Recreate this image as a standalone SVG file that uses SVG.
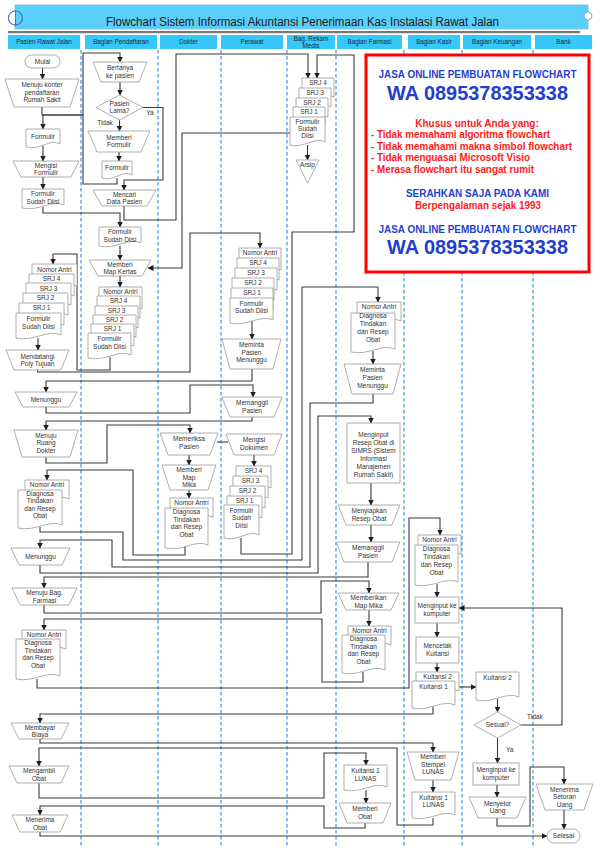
<svg xmlns="http://www.w3.org/2000/svg" width="600" height="851" viewBox="0 0 600 851">
<defs>
<marker id="ah" markerWidth="6" markerHeight="6" refX="5.5" refY="3" orient="auto" markerUnits="userSpaceOnUse"><path d="M0,0 L6,3 L0,6 z" fill="#1e1e1e"/></marker>
<style>
.n{fill:#fff;stroke:#9a9a9a;stroke-width:0.8}
.t{font-family:"Liberation Sans",Arial,sans-serif;font-size:6.5px;fill:#333;text-anchor:middle}
.h{font-family:"Liberation Sans",Arial,sans-serif;font-size:6.3px;fill:#1d2a3a;text-anchor:middle}
.hc{fill:#35c8f8}
.c{fill:none;stroke:#3a3a3a;stroke-width:1.1;marker-end:url(#ah)}
.cp{fill:none;stroke:#3a3a3a;stroke-width:1.1}
.lane{stroke:#2f86f0;stroke-width:1.1;stroke-dasharray:3.5 2.5}
.ab{font-family:"Liberation Sans",Arial,sans-serif;font-weight:bold;fill:#1f3fcf;text-anchor:middle}
.ar{font-family:"Liberation Sans",Arial,sans-serif;font-weight:bold;fill:#ff1a1a;font-size:10px}
</style>
</defs>
<rect width="600" height="851" fill="#fff"/>

<g id="title">
<rect x="15" y="5" width="573" height="24" fill="#5acffa" stroke="#7fb8e0" stroke-width="0.8"/>
<circle cx="588" cy="16" r="4" fill="#fff" stroke="#8aa6d8" stroke-width="1"/>
<circle cx="15.5" cy="18" r="7" fill="#5acffa" stroke="#4a6fd0" stroke-width="1.2"/>
<path d="M15.5,11 A7,7 0 0 0 15.5,25 Z" fill="#fff" stroke="#4a6fd0" stroke-width="1"/>
<text x="302.5" y="26" font-family="Liberation Sans,Arial,sans-serif" font-size="12.5" fill="#1a1a1a" text-anchor="middle" textLength="393" lengthAdjust="spacingAndGlyphs">Flowchart Sistem Informasi Akuntansi Penerimaan Kas Instalasi Rawat Jalan</text>
<rect x="8" y="31" width="572" height="2.2" fill="#777"/>
</g>

<g id="lanes">
<rect class="hc" x="8" y="35" width="72" height="14"/><text class="h" x="44" y="44.3">Pasien Rawat Jalan</text>
<rect class="hc" x="85" y="35" width="72" height="14"/><text class="h" x="121" y="44.3">Bagian Pendaftaran</text>
<rect class="hc" x="160" y="35" width="57" height="14"/><text class="h" x="188.5" y="44.3">Dokter</text>
<rect class="hc" x="221" y="35" width="62" height="14"/><text class="h" x="252" y="44.3">Perawat</text>
<rect class="hc" x="287" y="35" width="48" height="14"/><text class="h" x="311" y="40.5">Bag. Rekam</text><text class="h" x="311" y="47.5">Medis</text>
<rect class="hc" x="337" y="35" width="65" height="14"/><text class="h" x="369.5" y="44.3">Bagian Farmasi</text>
<rect class="hc" x="408" y="35" width="52" height="14"/><text class="h" x="434" y="44.3">Bagian Kasir</text>
<rect class="hc" x="463" y="35" width="68" height="14"/><text class="h" x="497" y="44.3">Bagian Keuangan</text>
<rect class="hc" x="535" y="35" width="57" height="14"/><text class="h" x="563.5" y="44.3">Bank</text>
<line class="lane" x1="81" y1="50" x2="81" y2="848"/>
<line class="lane" x1="158" y1="50" x2="158" y2="848"/>
<line class="lane" x1="221" y1="50" x2="221" y2="848"/>
<line class="lane" x1="287" y1="50" x2="287" y2="848"/>
<line class="lane" x1="336" y1="50" x2="336" y2="848"/>
<line class="lane" x1="404" y1="50" x2="404" y2="848"/>
<line class="lane" x1="462" y1="50" x2="462" y2="848"/>
<line class="lane" x1="533" y1="50" x2="533" y2="848"/>
</g>

<g id="connectors">
<path class="c" d="M42.5,68V79"/>
<path class="c" d="M42,107V115H83V53H120V62"/>
<path class="c" d="M120,82V95"/>
<path class="c" d="M119.5,120V131"/>
<path class="c" d="M119,152V161"/>
<path class="c" d="M117,178V184H83V115H43V129"/>
<path class="c" d="M43,146V161"/>
<path class="c" d="M43,177V189"/>
<path class="c" d="M43,207V213H120V227"/>
<path class="c" d="M143,107.5H163V180H124V190"/>
<path class="c" d="M124,206V220H176V54H308V78"/>
<path class="c" d="M290,133H182V268H148"/>
<path class="c" d="M120,246V260"/>
<path class="c" d="M120,276V287"/>
<path class="c" d="M110,357V370H77V254H53V264"/>
<path class="c" d="M38,338V350"/>
<path class="c" d="M37.5,370V372H190V233H260V248"/>
<path class="c" d="M307.5,145V160"/>
<path class="c" d="M252,321V339"/>
<path class="c" d="M252,369V381H46V392"/>
<path class="c" d="M46,407V413H190V385H253V397"/>
<path class="c" d="M252,417V421H46V430"/>
<path class="c" d="M46,457V463H107V425H190V433"/>
<path class="c" d="M189,455V465"/>
<path class="c" d="M189,490V498"/>
<path class="cp" d="M217,442H228"/>
<path class="c" d="M254,455V466"/>
<path class="c" d="M241,538V554H292V232H354V55H317V78"/>
<path class="c" d="M185,547V555H133V470H47V480"/>
<path class="c" d="M40,527V532H123V560H302V287H378V302"/>
<path class="c" d="M373,351V364"/>
<path class="c" d="M373,394V403H310V567H112V540H40V548"/>
<path class="c" d="M40,565V573H318V416H371V423"/>
<path class="c" d="M371,483V505"/>
<path class="c" d="M371,525V542"/>
<path class="c" d="M368,562V577H44V588"/>
<path class="c" d="M44,605V613H321V581H369V593"/>
<path class="c" d="M369,610V626"/>
<path class="c" d="M363,672V682H322V619H44V630"/>
<path class="c" d="M37,679V688H409V518H440V535"/>
<path class="c" d="M437,584V597"/>
<path class="c" d="M437,623V637"/>
<path class="c" d="M437,663V672"/>
<path class="c" d="M459,687H476"/>
<path class="c" d="M433,707V714H40V723"/>
<path class="c" d="M40,739V743H433V752"/>
<path class="c" d="M433,780V792"/>
<path class="c" d="M433,818V825H397V748H39V766"/>
<path class="c" d="M39,783V798H324V753H366V765"/>
<path class="c" d="M366,790V803"/>
<path class="c" d="M365,823V828H324V806H40V815"/>
<path class="c" d="M40,832V836H547"/>
<path class="c" d="M497.5,699V712"/>
<path class="c" d="M521,725H562V608H459"/>
<path class="c" d="M497.5,738V763"/>
<path class="c" d="M497,785V797"/>
<path class="c" d="M497,818V826H530V767H564V784"/>
<path class="c" d="M564,810V829"/>
</g>

<g id="adbox">
<rect x="366" y="55" width="223" height="217" fill="#fff" stroke="#ff0000" stroke-width="3"/>
<text class="ab" x="477.5" y="78" font-size="10" textLength="198" lengthAdjust="spacingAndGlyphs">JASA ONLINE PEMBUATAN FLOWCHART</text>
<text class="ab" x="477.5" y="100" font-size="20" textLength="181" lengthAdjust="spacingAndGlyphs">WA 0895378353338</text>
<text class="ar" x="477" y="127" text-anchor="middle">Khusus untuk Anda yang:</text>
<text class="ar" x="371" y="138" textLength="179" lengthAdjust="spacingAndGlyphs">- Tidak memahami algoritma flowchart</text>
<text class="ar" x="371" y="150" textLength="201" lengthAdjust="spacingAndGlyphs">- Tidak memahami makna simbol flowchart</text>
<text class="ar" x="371" y="161" textLength="159" lengthAdjust="spacingAndGlyphs">- Tidak menguasai Microsoft Visio</text>
<text class="ar" x="371" y="173" textLength="163" lengthAdjust="spacingAndGlyphs">- Merasa flowchart itu sangat rumit</text>
<text class="ab" x="477.5" y="197" font-size="10" textLength="143" lengthAdjust="spacingAndGlyphs">SERAHKAN SAJA PADA KAMI</text>
<text class="ar" x="478" y="209" text-anchor="middle" textLength="126" lengthAdjust="spacingAndGlyphs">Berpengalaman sejak 1993</text>
<text class="ab" x="477.5" y="233" font-size="10" textLength="198" lengthAdjust="spacingAndGlyphs">JASA ONLINE PEMBUATAN FLOWCHART</text>
<text class="ab" x="477.5" y="254" font-size="20" textLength="181" lengthAdjust="spacingAndGlyphs">WA 0895378353338</text>
</g>

<!-- Pasien Rawat Jalan -->
<g id="n_mulai"><rect class="n" x="25" y="55" width="35" height="13" rx="6.5"/><text class="t" x="42.5" y="63.7">Mulai</text></g>
<g id="n_menuju_konter"><path class="n" d="M5,79H79L70,107H14Z"/><text class="t" x="42" y="87">Menuju konter</text><text class="t" x="42" y="94.5">pendaftaran</text><text class="t" x="42" y="102">Rumah  Sakit</text></g>
<g id="n_formulir_p"><path class="n" d="M26,129h34v15c-10.2,-6 -20.4,7 -34,3z"/><text class="t" x="43" y="139">Formulir</text></g>
<g id="n_mengisi"><path class="n" d="M13,161H79L71,177H21Z"/><text class="t" x="46" y="167.5">Mengisi</text><text class="t" x="46" y="175">Formulir</text></g>
<g id="n_fsd_p"><path class="n" d="M22,189h42v16c-12.6,-6 -25.2,7 -42,3z"/><text class="t" x="43" y="196">Formulir</text><text class="t" x="43" y="203.5">Sudah Diisi</text></g>
<g id="n_stack_p">
<path class="n" d="M32,264h45v22c-13.5,-6 -27,7 -45,3z"/><text class="t" x="54.5" y="271.5">Nomor Antri</text>
<path class="n" d="M29,274h45v22c-13.5,-6 -27,7 -45,3z"/><text class="t" x="51.5" y="281">SRJ 4</text>
<path class="n" d="M26,283h45v22c-13.5,-6 -27,7 -45,3z"/><text class="t" x="48.5" y="290.5">SRJ 3</text>
<path class="n" d="M23,293h45v22c-13.5,-6 -27,7 -45,3z"/><text class="t" x="45.5" y="300">SRJ 2</text>
<path class="n" d="M19,303h45v22c-13.5,-6 -27,7 -45,3z"/><text class="t" x="41.5" y="310">SRJ 1</text>
<path class="n" d="M16,313h45v22c-13.5,-6 -27,7 -45,3z"/><text class="t" x="38.5" y="321">Formulir</text><text class="t" x="38.5" y="328.5">Sudah Diisi</text>
</g>
<g id="n_mendatangi"><path class="n" d="M6,350H69L61,370H14Z"/><text class="t" x="37.5" y="358.5">Mendatangi</text><text class="t" x="37.5" y="366">Poly Tujuan</text></g>
<g id="n_menunggu1"><path class="n" d="M15,392H77L69,407H23Z"/><text class="t" x="46" y="401.5">Menunggu</text></g>
<g id="n_menuju_dokter"><path class="n" d="M14,430H78L70,457H22Z"/><text class="t" x="46" y="437.5">Menuju</text><text class="t" x="46" y="445">Ruang</text><text class="t" x="46" y="452.5">Dokter</text></g>
<g id="n_doc_p2">
<path class="n" d="M25,480h44v19c-13.2,-6 -26.4,7 -44,3z"/><text class="t" x="47" y="486.5">Nomor Antri</text>
<path class="n" d="M18,490h44v35c-13.2,-6 -26.4,7 -44,3z"/><text class="t" x="40" y="495.5">Diagnosa</text><text class="t" x="40" y="503">Tindakan</text><text class="t" x="40" y="510.5">dan Resep</text><text class="t" x="40" y="518">Obat</text>
</g>
<g id="n_menunggu2"><path class="n" d="M11,548H70L62,565H19Z"/><text class="t" x="40.5" y="558.5">Menunggu</text></g>
<g id="n_menuju_farmasi"><path class="n" d="M12,588H77L69,605H20Z"/><text class="t" x="44.5" y="595">Menuju Bag.</text><text class="t" x="44.5" y="602.5">Farmasi</text></g>
<g id="n_doc_p3">
<path class="n" d="M22,630h44v19c-13.2,-6 -26.4,7 -44,3z"/><text class="t" x="44" y="636.5">Nomor Antri</text>
<path class="n" d="M16,639h44v37c-13.2,-6 -26.4,7 -44,3z"/><text class="t" x="38" y="645">Diagnosa</text><text class="t" x="38" y="652.5">Tindakan</text><text class="t" x="38" y="660">dan Resep</text><text class="t" x="38" y="667.5">Obat</text>
</g>
<g id="n_membayar"><path class="n" d="M11,723H69L61,739H19Z"/><text class="t" x="40" y="730">Membayar</text><text class="t" x="40" y="737">Biaya</text></g>
<g id="n_mengambil"><path class="n" d="M9,766H69L61,783H17Z"/><text class="t" x="39" y="773">Mengambil</text><text class="t" x="39" y="780.5">Obat</text></g>
<g id="n_menerima_obat"><path class="n" d="M12,815H68L60,832H20Z"/><text class="t" x="40" y="822">Menerima</text><text class="t" x="40" y="829.5">Obat</text></g>

<!-- Bagian Pendaftaran -->
<g id="n_bertanya"><path class="n" d="M93,62H147L139,82H101Z"/><text class="t" x="120" y="70">Bertanya</text><text class="t" x="120" y="77.5">ke pasien</text></g>
<g id="n_pasien_lama"><path class="n" d="M96,107.5L119.5,95L143,107.5L119.5,120Z"/><text class="t" x="119.5" y="105.5">Pasien</text><text class="t" x="119.5" y="112.5">Lama?</text>
<text class="t" x="150" y="115">Ya</text><text class="t" x="105" y="125">Tidak</text></g>
<g id="n_memberi_formulir"><path class="n" d="M88,131H150L141,152H97Z"/><text class="t" x="119" y="139.5">Memberi</text><text class="t" x="119" y="147">Formulir</text></g>
<g id="n_formulir_d"><path class="n" d="M102,161h30v14c-9,-6 -18,7 -30,3z"/><text class="t" x="117" y="170">Formulir</text></g>
<g id="n_mencari"><path class="n" d="M93,190H156L147,206H102Z"/><text class="t" x="124.5" y="196.5">Mencari</text><text class="t" x="124.5" y="203.5">Data Pasien</text></g>
<g id="n_fsd_d"><path class="n" d="M99,227h42v16c-12.6,-6 -25.2,7 -42,3z"/><text class="t" x="120" y="234">Formulir</text><text class="t" x="120" y="241.5">Sudah Diisi</text></g>
<g id="n_map_kertas"><path class="n" d="M89,260H151L142,276H98Z"/><text class="t" x="120" y="266.5">Memberi</text><text class="t" x="120" y="273.5">Map Kertas</text></g>
<g id="n_stack_d">
<path class="n" d="M99,287h43v22c-12.9,-6 -25.8,7 -43,3z"/><text class="t" x="120.5" y="294">Nomor Antri</text>
<path class="n" d="M97,296h43v22c-12.9,-6 -25.8,7 -43,3z"/><text class="t" x="118.5" y="303">SRJ 4</text>
<path class="n" d="M95,306h43v22c-12.9,-6 -25.8,7 -43,3z"/><text class="t" x="116.5" y="313">SRJ 3</text>
<path class="n" d="M93,315h43v22c-12.9,-6 -25.8,7 -43,3z"/><text class="t" x="114.5" y="322">SRJ 2</text>
<path class="n" d="M91,324h43v22c-12.9,-6 -25.8,7 -43,3z"/><text class="t" x="112.5" y="331">SRJ 1</text>
<path class="n" d="M88,333h43v22c-12.9,-6 -25.8,7 -43,3z"/><text class="t" x="109.5" y="341">Formulir</text><text class="t" x="109.5" y="348.5">Sudah Diisi</text>
</g>

<!-- Dokter -->
<g id="n_memeriksa"><path class="n" d="M160,433H218L210,455H168Z"/><text class="t" x="189" y="441">Memeriksa</text><text class="t" x="189" y="448.5">Pasien</text></g>
<g id="n_map_mika_dok"><path class="n" d="M162,465H216L208,490H170Z"/><text class="t" x="189" y="472">Memberi</text><text class="t" x="189" y="479.5">Map</text><text class="t" x="189" y="487">Mika</text></g>
<g id="n_doc_dok">
<path class="n" d="M170,498h43v19c-12.9,-6 -25.8,7 -43,3z"/><text class="t" x="191.5" y="505">Nomor Antri</text>
<path class="n" d="M165,508h43v37c-12.9,-6 -25.8,7 -43,3z"/><text class="t" x="186.5" y="514">Diagnosa</text><text class="t" x="186.5" y="521.5">Tindakan</text><text class="t" x="186.5" y="529">dan Resep</text><text class="t" x="186.5" y="536.5">Obat</text>
</g>

<!-- Perawat -->
<g id="n_stack_per1">
<path class="n" d="M239,248h42v22c-12.6,-6 -25.2,7 -42,3z"/><text class="t" x="260" y="254.5">Nomor Antri</text>
<path class="n" d="M237,258h42v22c-12.6,-6 -25.2,7 -42,3z"/><text class="t" x="258" y="264.5">SRJ 4</text>
<path class="n" d="M235,268h42v22c-12.6,-6 -25.2,7 -42,3z"/><text class="t" x="256" y="274.5">SRJ 3</text>
<path class="n" d="M232,278h42v22c-12.6,-6 -25.2,7 -42,3z"/><text class="t" x="253" y="284.5">SRJ 2</text>
<path class="n" d="M231,288h42v22c-12.6,-6 -25.2,7 -42,3z"/><text class="t" x="252" y="294.5">SRJ 1</text>
<path class="n" d="M230,298h43v22c-12.9,-6 -25.8,7 -43,3z"/><text class="t" x="251.5" y="305.5">Formulir</text><text class="t" x="251.5" y="313">Sudah Diisi</text>
</g>
<g id="n_meminta_per"><path class="n" d="M222,339H281L273,369H230Z"/><text class="t" x="251.5" y="347">Meminta</text><text class="t" x="251.5" y="354.5">Pasien</text><text class="t" x="251.5" y="362">Menunggu</text></g>
<g id="n_memanggil_per"><path class="n" d="M222,397H282L274,417H230Z"/><text class="t" x="252" y="405">Memanggil</text><text class="t" x="252" y="412.5">Pasien</text></g>
<g id="n_mengisi_dok"><path class="n" d="M226,434H282L274,455H234Z"/><text class="t" x="254" y="442">Mengisi</text><text class="t" x="254" y="449.5">Dokumen</text></g>
<g id="n_stack_per2">
<path class="n" d="M236,466h35v22c-10.5,-6 -21,7 -35,3z"/><text class="t" x="253.5" y="473">SRJ 4</text>
<path class="n" d="M233,476h35v22c-10.5,-6 -21,7 -35,3z"/><text class="t" x="250.5" y="483">SRJ 3</text>
<path class="n" d="M230,486h35v22c-10.5,-6 -21,7 -35,3z"/><text class="t" x="247.5" y="493">SRJ 2</text>
<path class="n" d="M227,496h35v22c-10.5,-6 -21,7 -35,3z"/><text class="t" x="244.5" y="503">SRJ 1</text>
<path class="n" d="M224,505h35v30c-10.5,-6 -21,7 -35,3z"/><text class="t" x="241.5" y="512.5">Formulir</text><text class="t" x="241.5" y="520">Sudah</text><text class="t" x="241.5" y="527.5">Diisi</text>
</g>

<!-- Rekam Medis -->
<g id="n_stack_rm">
<path class="n" d="M302,78h32v19c-9.6,-6 -19.2,7 -32,3z"/><text class="t" x="318" y="84.5">SRJ 4</text>
<path class="n" d="M299,88h32v19c-9.6,-6 -19.2,7 -32,3z"/><text class="t" x="315" y="94.5">SRJ 3</text>
<path class="n" d="M296,98h32v19c-9.6,-6 -19.2,7 -32,3z"/><text class="t" x="312" y="104.5">SRJ 2</text>
<path class="n" d="M293,107h32v19c-9.6,-6 -19.2,7 -32,3z"/><text class="t" x="309" y="113.5">SRJ 1</text>
<path class="n" d="M290,117h35v25c-10.5,-6 -21,7 -35,3z"/><text class="t" x="307.5" y="123.5">Formulir</text><text class="t" x="307.5" y="130.5">Sudah</text><text class="t" x="307.5" y="137.5">Diisi</text>
</g>
<g id="n_arsip"><path class="n" d="M296,160H319L307.5,183Z"/><text class="t" x="307.5" y="167">Arsip</text></g>

<!-- Farmasi -->
<g id="n_doc_f1">
<path class="n" d="M357,302h44v19c-13.2,-6 -26.4,7 -44,3z"/><text class="t" x="379" y="309">Nomor Antri</text>
<path class="n" d="M351,313h44v36c-13.2,-6 -26.4,7 -44,3z"/><text class="t" x="373" y="317.5">Diagnosa</text><text class="t" x="373" y="325.5">Tindakan</text><text class="t" x="373" y="333.5">dan Resep</text><text class="t" x="373" y="341.5">Obat</text>
</g>
<g id="n_meminta_f"><path class="n" d="M344,364H401L393,394H352Z"/><text class="t" x="372.5" y="371.5">Meminta</text><text class="t" x="372.5" y="379.5">Pasien</text><text class="t" x="372.5" y="387.5">Menunggu</text></g>
<g id="n_menginput_resep"><rect class="n" x="347" y="423" width="53" height="60"/><text class="t" x="373.5" y="436.5">Menginput</text><text class="t" x="373.5" y="444.5">Resep Obat di</text><text class="t" x="373.5" y="452.5">SIMRS (Sistem</text><text class="t" x="373.5" y="460.5">Informasi</text><text class="t" x="373.5" y="468.5">Manajemen</text><text class="t" x="373.5" y="476.5">Rumah Sakit)</text></g>
<g id="n_menyiapkan"><path class="n" d="M338,505H400L392,525H346Z"/><text class="t" x="369" y="513">Menyiapkan</text><text class="t" x="369" y="520.5">Resep Obat</text></g>
<g id="n_memanggil_f"><path class="n" d="M336,542H400L392,562H344Z"/><text class="t" x="368" y="550">Memanggil</text><text class="t" x="368" y="557.5">Pasien</text></g>
<g id="n_map_mika_f"><path class="n" d="M338,593H399L391,610H346Z"/><text class="t" x="368.5" y="600">Memberikan</text><text class="t" x="368.5" y="607.5">Map Mika</text></g>
<g id="n_doc_f2">
<path class="n" d="M348,626h43v19c-12.9,-6 -25.8,7 -43,3z"/><text class="t" x="369.5" y="633">Nomor Antri</text>
<path class="n" d="M342,635h43v35c-12.9,-6 -25.8,7 -43,3z"/><text class="t" x="363.5" y="641">Diagnosa</text><text class="t" x="363.5" y="648.5">Tindakan</text><text class="t" x="363.5" y="656">dan Resep</text><text class="t" x="363.5" y="663.5">Obat</text>
</g>
<g id="n_kuitansi_lunas_f"><path class="n" d="M344,765h43v22c-12.9,-6 -25.8,7 -43,3z"/><text class="t" x="365.5" y="773">Kuitansi 1</text><text class="t" x="365.5" y="780.5">LUNAS</text></g>
<g id="n_memberi_obat"><path class="n" d="M339,803H391L383,823H347Z"/><text class="t" x="365" y="811">Memberi</text><text class="t" x="365" y="818.5">Obat</text></g>

<!-- Kasir -->
<g id="n_doc_k">
<path class="n" d="M418,535h43v19c-12.9,-6 -25.8,7 -43,3z"/><text class="t" x="439.5" y="541.5">Nomor Antri</text>
<path class="n" d="M415,545h43v37c-12.9,-6 -25.8,7 -43,3z"/><text class="t" x="436.5" y="550.5">Diagnosa</text><text class="t" x="436.5" y="558.5">Tindakan</text><text class="t" x="436.5" y="566.5">dan Resep</text><text class="t" x="436.5" y="574.5">Obat</text>
</g>
<g id="n_menginput_kasir"><rect class="n" x="415" y="597" width="44" height="26"/><text class="t" x="437" y="607.5">Menginput ke</text><text class="t" x="437" y="615.5">komputer</text></g>
<g id="n_mencetak"><rect class="n" x="416" y="637" width="43" height="26"/><text class="t" x="437.5" y="647.5">Mencetak</text><text class="t" x="437.5" y="655.5">Kuitansi</text></g>
<g id="n_kuitansi_k">
<path class="n" d="M416,672h43v19c-12.9,-6 -25.8,7 -43,3z"/><text class="t" x="437.5" y="678.5">Kuitansi 2</text>
<path class="n" d="M412,681h43v24c-12.9,-6 -25.8,7 -43,3z"/><text class="t" x="433.5" y="689">Kuitansi 1</text>
</g>
<g id="n_stempel"><path class="n" d="M407,752H459L451,780H415Z"/><text class="t" x="433" y="759">Memberi</text><text class="t" x="433" y="766.5">Stempel</text><text class="t" x="433" y="774">LUNAS</text></g>
<g id="n_kuitansi_lunas_k"><path class="n" d="M412,792h43v23c-12.9,-6 -25.8,7 -43,3z"/><text class="t" x="433.5" y="799.5">Kuitansi 1</text><text class="t" x="433.5" y="807">LUNAS</text></g>

<!-- Keuangan -->
<g id="n_kuitansi2_keu"><path class="n" d="M476,672h43v25c-12.9,-6 -25.8,7 -43,3z"/><text class="t" x="497.5" y="680">Kuitansi 2</text></g>
<g id="n_sesuai"><path class="n" d="M474,725L497.5,712L521,725L497.5,738Z"/><text class="t" x="497.5" y="727">Sesuai?</text>
<text class="t" x="527" y="719" style="text-anchor:start">Tidak</text><text class="t" x="506" y="752" style="text-anchor:start">Ya</text></g>
<g id="n_menginput_keu"><rect class="n" x="473" y="763" width="46" height="22"/><text class="t" x="496" y="771.5">Menginput ke</text><text class="t" x="496" y="779.5">komputer</text></g>
<g id="n_menyetor"><path class="n" d="M469,797H526L517,818H478Z"/><text class="t" x="497.5" y="805.5">Menyetor</text><text class="t" x="497.5" y="813">Uang</text></g>

<!-- Bank -->
<g id="n_menerima_setoran"><path class="n" d="M536,784H593L584,810H545Z"/><text class="t" x="564.5" y="791.5">Menerima</text><text class="t" x="564.5" y="799">Setoran</text><text class="t" x="564.5" y="806.5">Uang</text></g>
<g id="n_selesai"><rect class="n" x="547" y="829" width="33" height="14" rx="7"/><text class="t" x="563.5" y="838.3">Selesai</text></g>
</svg>
